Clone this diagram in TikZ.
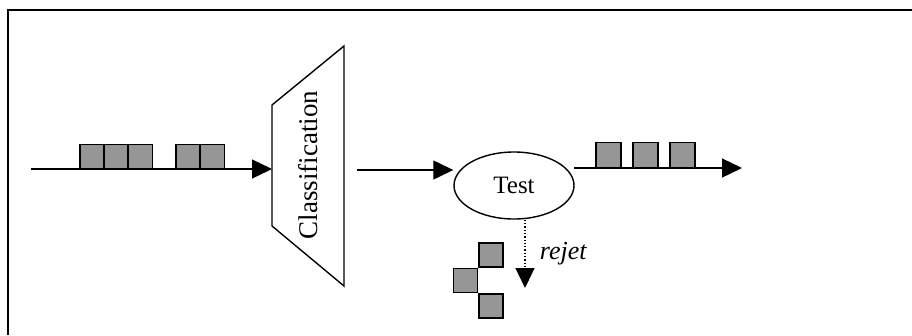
\documentclass[tikz,border=0pt]{standalone}
\usepackage{fontspec}
\setmainfont{Liberation Serif}
\usepackage{xcolor}
\usepackage{tikz}
\usetikzlibrary{arrows.meta,positioning,shapes.geometric}
\definecolor{pktgray}{RGB}{150,150,150}
\tikzset{
	flow/.style={-{Triangle[length=20pt,width=19pt]}, line width=1.3pt},
	pkt/.style={draw, fill=pktgray, line width=1.5pt, inner sep=0pt,
		minimum width=24pt, minimum height=24pt},
	tinylabel/.style={font=\fontsize{26}{28}\selectfont\itshape}
}

\begin{document}
\begin{tikzpicture}[x=1pt, y=-1pt,
			testbox/.style={draw, ellipse, line width=1.4pt, inner sep=0pt,
				minimum width=120pt, minimum height=67pt,
				font=\fontsize{25}{27}\selectfont},
			]
			\useasboundingbox (0,0) rectangle (912,335);
			
			%% -- Open frame (left and top sides only)
			\draw[line width=2.4pt] (8,335) -- (8,10) -- (912,10);
			
			%% -- Incoming flow with mixed packets
			\coordinate (src) at (31,169);
			\coordinate (cin) at (272,169);
			\draw[flow] (src) -- (cin);
			\foreach \i/\x in {1/79,2/103.3,3/127.6,4/175,5/199.5}
			\node[pkt, anchor=south west] (p\i) at (\x,169) {};
			
			%% -- Classification stage
			\draw[line width=1.4pt] (272,105) -- (344,46) -- (344,286)
			-- (272,226) -- cycle;
			\node[rotate=90, font=\fontsize{27}{29}\selectfont] (cls)
			at (308,165) {Classification};
			
			%% -- Test stage
			\coordinate (mid) at (357,170);
			\node[testbox] (test) at (514,185.5) {Test};
			\draw[flow] (mid) -- (mid -| test.west);
			
			%% -- Accepted packets
			\coordinate (dst) at (742,168);
			\draw[flow] (574,168) -- (dst);
			\foreach \i/\x in {1/595,2/632,3/669}
			\node[pkt, minimum width=25pt, minimum height=25pt,
			anchor=south west] (q\i) at (\x,168) {};
			
			%% -- Rejected packets
			\coordinate (rj) at (525,288);
			\draw[flow, dotted] (rj |- test.south) -- (rj)
			node[midway, right=11pt, tinylabel] (rl) {rejet};
			\node[pkt, anchor=north west] (r1) at (478,242) {};
			\node[pkt, anchor=north east] (r2) at (r1.south west) {};
			\node[pkt, anchor=north west] (r3) at (r2.south east) {};
			
\end{tikzpicture}
\end{document}
